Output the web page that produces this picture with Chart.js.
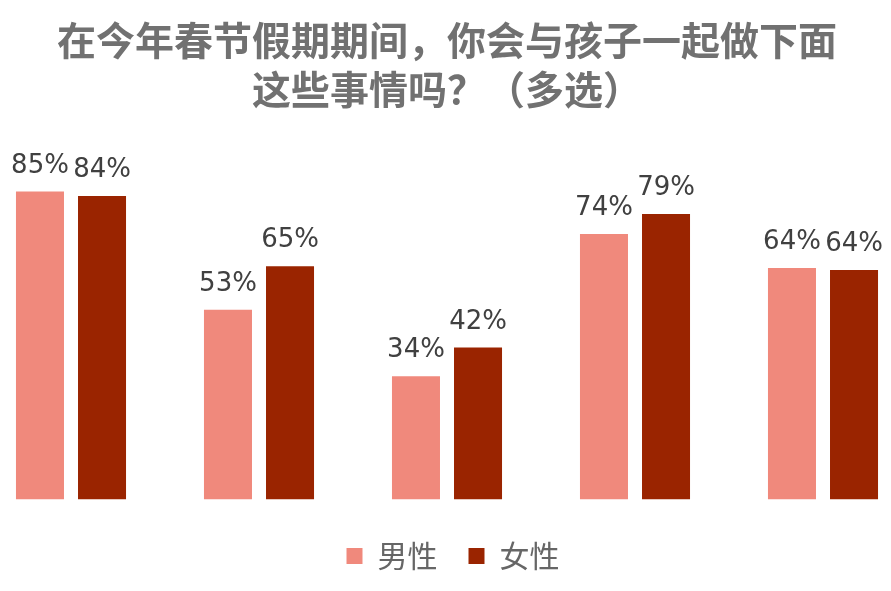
<!DOCTYPE html>
<html>
<head>
<meta charset="utf-8">
<script src="https://cdn.jsdelivr.net/npm/chart.js@4/dist/chart.umd.min.js"></script>
<style>
  html, body { margin: 0; padding: 0; background: #ffffff; overflow: hidden; width: 891px; height: 591px; }
  #wrap { position: absolute; left: -23px; top: 0; width: 940px; height: 591px; }
</style>
</head>
<body>
<div id="wrap"><canvas id="c"></canvas></div>
<script>
const categories = ['活动一', '活动二', '活动三', '活动四', '活动五'];
const seriesNames = ['男性', '女性'];
const maleValues = [85.4, 52.6, 34.1, 73.6, 64.2];
const femaleValues = [84.2, 64.7, 42.1, 79.2, 63.6];
const titleLines = ['在今年春节假期期间，你会与孩子一起做下面', '这些事情吗？（多选）'];

const valueLabels = {
  id: 'valueLabels',
  afterDatasetsDraw(chart) {
    const ctx = chart.ctx;
    ctx.save();
    ctx.font = '26px "DejaVu Sans"';
    ctx.fillStyle = '#404040';
    ctx.textAlign = 'center';
    ctx.textBaseline = 'alphabetic';
    chart.data.datasets.forEach((ds, di) => {
      const meta = chart.getDatasetMeta(di);
      meta.data.forEach((bar, i) => {
        ctx.fillText(Math.round(ds.data[i]) + '%', bar.x, bar.y - 19);
      });
    });
    ctx.restore();
  }
};

const legendShift = {
  id: 'legendShift',
  afterLayout(chart) {
    if (chart.legend) { chart.legend.left += 6; chart.legend.right += 6; }
  }
};

new Chart(document.getElementById('c'), {
  type: 'bar',
  data: {
    labels: categories,
    datasets: [
      { label: seriesNames[0], data: maleValues, backgroundColor: '#F0897C', borderWidth: 0 },
      { label: seriesNames[1], data: femaleValues, backgroundColor: '#9A2400', borderWidth: 0 }
    ]
  },
  options: {
    responsive: true,
    maintainAspectRatio: false,
    animation: false,
    datasets: { bar: { categoryPercentage: 0.66, barPercentage: 0.774 } },
    layout: { padding: { top: 0, bottom: 10, left: 0, right: 0 } },
    scales: {
      x: { display: false, grid: { display: false } },
      y: { display: false, min: -3, max: 100, grid: { display: false } }
    },
    plugins: {
      tooltip: { enabled: false },
      title: {
        display: true,
        text: titleLines,
        color: '#717171',
        font: { family: '"Noto Sans CJK SC"', size: 39, weight: 'bold', lineHeight: '49px' },
        padding: { top: 16, bottom: 25 }
      },
      legend: {
        display: true,
        position: 'bottom',
        labels: {
          color: '#666666',
          font: { family: '"Noto Sans CJK SC"', size: 30 },
          boxWidth: 16,
          boxHeight: 16,
          padding: 31
        }
      }
    }
  },
  plugins: [valueLabels, legendShift]
});
</script>
</body>
</html>
